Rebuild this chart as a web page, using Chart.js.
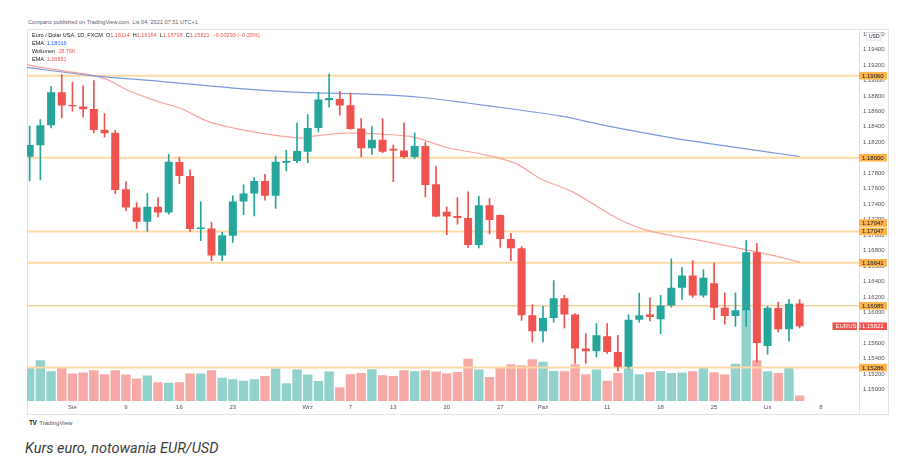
<!DOCTYPE html>
<html lang="pl">
<head>
<meta charset="utf-8">
<title>EUR/USD</title>
<script src="https://cdn.jsdelivr.net/npm/chart.js@4.4.1/dist/chart.umd.min.js"></script>
<style>
  body { margin: 0; width: 912px; height: 476px; background: #fff; position: relative; overflow: hidden;
         font-family: "Liberation Sans", Arial, sans-serif; }
  .abs { position: absolute; white-space: nowrap; }
  #published { left: 28px; top: 18px; font-size: 5.6px; line-height: 8px; color: #5d606b; }
  #frame { left: 27px; top: 29px; width: 862px; height: 386px; border: 1px solid #e0e3eb; box-sizing: border-box; }
  #axisline { left: 859px; top: 29px; width: 1px; height: 386px; background: #e0e3eb; }
  #wrap { left: 27px; top: 23px; width: 862px; height: 391px; }
  #legend { left: 32px; top: 31px; font-size: 5.5px; line-height: 8px; color: #131722; }
  #legend .r { color: #ef5350; }
  #legend .b { color: #2962ff; }
  #tv { left: 29px; top: 419px; font-size: 6px; line-height: 8px; color: #50535e; }
  #tv b { color: #131722; font-size: 6.5px; letter-spacing: -0.5px; margin-right: 3px; }
  #caption { left: 25px; top: 440px; font-family: Roboto, "Liberation Sans", sans-serif; font-style: italic;
             font-size: 14.5px; line-height: 18px; color: #3d3d3d; }
</style>
</head>
<body>
<div id="published" class="abs">Comparic published on TradingView.com, Lis 04, 2021 07:51 UTC+1</div>
<div id="frame" class="abs"></div>
<div id="axisline" class="abs"></div>
<div id="wrap" class="abs"><canvas id="chart" width="862" height="391"></canvas></div>
<div id="legend" class="abs">
  <div>Euro / Dolar USA, 1D, FXCM &nbsp;O<span class="r">1.16114</span> &nbsp;H<span class="r">1.16164</span> &nbsp;L<span class="r">1.15798</span> &nbsp;C<span class="r">1.15821</span> &nbsp;<span class="r">−0.00293 (−0.25%)</span></div>
  <div>EMA &nbsp;<span class="b">1.18016</span></div>
  <div>Wolumen &nbsp;<span class="r">28.76K</span></div>
  <div>EMA &nbsp;<span class="r">1.16651</span></div>
</div>
<div id="tv" class="abs"><b>TV</b>TradingView</div>
<div id="caption" class="abs">Kurs euro, notowania EUR/USD</div>

<script>
// Daily candles, first visible one is Tue 27 Jul 2021, last is Thu 4 Nov 2021
const firstDay = '2021-07-27';

const open = [1.18013, 1.18160, 1.18421, 1.18846, 1.18682, 1.18662, 1.18631, 1.18361, 1.18322, 1.17593,
              1.17356, 1.17172, 1.17365, 1.17292, 1.17945, 1.17764, 1.17078, 1.17086, 1.16734, 1.16992,
              1.17433, 1.17536, 1.17700, 1.17507, 1.17936, 1.17958, 1.18077, 1.18386, 1.18743, 1.18760,
              1.18679, 1.18379, 1.18121, 1.18232, 1.18116, 1.18095, 1.18009, 1.18151, 1.17657, 1.17301,
              1.17245, 1.17220, 1.16872, 1.17387, 1.17258, 1.16949, 1.16828, 1.15962, 1.15756, 1.15927,
              1.16184, 1.15971, 1.15533, 1.15498, 1.15691, 1.15489, 1.15296, 1.15906, 1.15971, 1.15910,
              1.16090, 1.16318, 1.16477, 1.16219, 1.16378, 1.16061, 1.15953, 1.16026, 1.16777, 1.15566,
              1.16056, 1.15781, 1.16114];
const high = [1.18408, 1.18494, 1.18923, 1.19074, 1.18975, 1.18932, 1.18997, 1.18572, 1.18353, 1.17691,
              1.17421, 1.17536, 1.17485, 1.18044, 1.18009, 1.17842, 1.17430, 1.17163, 1.17034, 1.17507,
              1.17648, 1.17742, 1.17786, 1.18022, 1.18095, 1.18451, 1.18559, 1.18846, 1.19082, 1.18859,
              1.18837, 1.18507, 1.18404, 1.18507, 1.18164, 1.18451, 1.18322, 1.18202, 1.17889, 1.17365,
              1.17485, 1.17558, 1.17503, 1.17472, 1.17262, 1.17021, 1.16850, 1.16099, 1.16077, 1.16412,
              1.16219, 1.15985, 1.15726, 1.15855, 1.15855, 1.15704, 1.15971, 1.16249, 1.16189, 1.16219,
              1.16692, 1.16584, 1.16670, 1.16550, 1.16640, 1.16254, 1.16254, 1.16927, 1.16893, 1.16077,
              1.16133, 1.16168, 1.16164];
const low = [1.17700, 1.17713, 1.18386, 1.18515, 1.18601, 1.18528, 1.18322, 1.18267, 1.17536, 1.17314,
             1.17086, 1.17047, 1.17236, 1.17271, 1.17665, 1.17047, 1.16927, 1.16670, 1.16670, 1.16905,
             1.17262, 1.17249, 1.17451, 1.17343, 1.17829, 1.17936, 1.17936, 1.18335, 1.18653, 1.18550,
             1.18366, 1.18009, 1.18044, 1.18064, 1.17691, 1.17992, 1.17987, 1.17494, 1.17235, 1.17005,
             1.17142, 1.16841, 1.16833, 1.17014, 1.16841, 1.16670, 1.15897, 1.15618, 1.15618, 1.15875,
             1.15798, 1.15340, 1.15340, 1.15425, 1.15468, 1.15244, 1.15275, 1.15875, 1.15888, 1.15726,
             1.16068, 1.16168, 1.16197, 1.16197, 1.15906, 1.15846, 1.15820, 1.15820, 1.15360, 1.15459,
             1.15747, 1.15627, 1.15798];
const close = [1.18164, 1.18421, 1.18846, 1.18675, 1.18666, 1.18627, 1.18357, 1.18318, 1.17584, 1.17356,
               1.17172, 1.17365, 1.17292, 1.17948, 1.17764, 1.17078, 1.17099, 1.16734, 1.16996, 1.17433,
               1.17536, 1.17700, 1.17507, 1.17948, 1.17958, 1.18086, 1.18386, 1.18752, 1.18773, 1.18675,
               1.18373, 1.18121, 1.18232, 1.18077, 1.18095, 1.18009, 1.18151, 1.17648, 1.17240, 1.17240,
               1.17220, 1.16872, 1.17387, 1.17194, 1.16949, 1.16828, 1.15962, 1.15756, 1.15927, 1.16184,
               1.15971, 1.15533, 1.15498, 1.15704, 1.15489, 1.15296, 1.15906, 1.15962, 1.15940, 1.16090,
               1.16318, 1.16477, 1.16219, 1.16447, 1.16061, 1.15953, 1.16026, 1.16777, 1.15605, 1.16061,
               1.15781, 1.16112, 1.15821];
// volume in thousands
const volume = [174, 214, 157, 174, 145, 150, 162, 141, 162, 140,
                119, 134, 99, 96, 99, 145, 145, 162, 122, 115,
                106, 115, 131, 171, 93, 166, 140, 105, 155, 72,
                141, 148, 167, 136, 132, 162, 157, 162, 155, 145,
                153, 223, 166, 127, 176, 194, 188, 220, 206, 158,
                157, 194, 141, 166, 106, 148, 171, 141, 152, 158,
                148, 150, 157, 174, 152, 140, 196, 485, 214, 157,
                148, 175, 28.76];

// EMA lines (x = candle number)
const emaSlowX = [-0.25, 5.6, 12.2, 18.8, 25.3, 32.1, 36.5, 40.9, 45.3, 49.7, 54.1, 60.2, 66.5, 72];
const emaSlowY = [1.19168, 1.19065, 1.18988, 1.18904, 1.18846, 1.18820, 1.18782, 1.18708, 1.18627, 1.18537,
                  1.18408, 1.18254, 1.18125, 1.18016];
const emaFastX = [-0.25, 2.2, 5.4, 7.2, 9.4, 12.2, 14.1, 16.6, 19.1, 21.6, 25.3, 26.5, 29.7, 32.8, 35.9,
                  39.1, 42.2, 45.3, 47.8, 50.9, 55.0, 58.1, 62.8, 66.5, 69.6, 72];
const emaFastY = [1.19200, 1.19142, 1.19078, 1.19013, 1.18859, 1.18717, 1.18640, 1.18473, 1.18382, 1.18318,
                  1.18254, 1.18279, 1.18322, 1.18305, 1.18267, 1.18129, 1.18048, 1.17936, 1.17726, 1.17549,
                  1.17211, 1.17047, 1.16927, 1.16824, 1.16734, 1.16651];

// horizontal levels and how many labels each one has on the price axis
const levels = [1.19060, 1.18000, 1.17047, 1.16641, 1.16085, 1.15286];
const levelLabels = [1, 1, 2, 1, 1, 1];
const lastPrice = 1.15821;

const priceTicks = [1.150, 1.152, 1.154, 1.156, 1.158, 1.160, 1.162, 1.164, 1.166, 1.168, 1.170, 1.172,
                    1.174, 1.176, 1.178, 1.180, 1.182, 1.184, 1.186, 1.188, 1.190, 1.192, 1.194, 1.196];
const tickDays = ['2021-08-02', '2021-08-09', '2021-08-16', '2021-08-23', '2021-09-01', '2021-09-07',
                  '2021-09-13', '2021-09-20', '2021-09-27', '2021-10-01', '2021-10-11', '2021-10-18',
                  '2021-10-25', '2021-11-01', '2021-11-08'];
const tickLabels = ['Sie', '9', '16', '23', 'Wrz', '7', '13', '20', '27', 'Paź', '11', '18', '25', 'Lis', '8'];

const xMin = -0.25, xMax = 77.55;
const yMin = 1.14854, yMax = 1.19644;
const volMax = 1950;

const UP = '#26a69a', DOWN = '#ef5350';
const UP_VOL = '#92d2cc', DOWN_VOL = '#f7a9a7';
const FONT = '"Liberation Sans", Arial, sans-serif';

// weekday calendar from the first candle on
const days = [];
let d = new Date(firstDay + 'T00:00:00Z');
while (days.length < 90) {
    const wd = d.getUTCDay();
    if (wd !== 0 && wd !== 6) days.push(d.toISOString().slice(0, 10));
    d.setUTCDate(d.getUTCDate() + 1);
}
const tickIdx = tickDays.map(t => days.indexOf(t));

const isUp = open.map((o, i) => close[i] >= o);
const candleColors = isUp.map(u => u ? UP : DOWN);
const volColors = isUp.map(u => u ? UP_VOL : DOWN_VOL);

const levelSets = levels.map(lvl => ({
    type: 'line',
    data: [{x: xMin, y: lvl}, {x: xMax, y: lvl}],
    borderColor: lvl === 1.16085 ? '#f8b766' : '#ffdaa6',
    borderWidth: lvl === 1.16085 ? 1 : 2,
    pointRadius: 0,
    order: 8
}));

function badge(ctx, x, y, w, text, bg, fg) {
    ctx.fillStyle = bg;
    ctx.fillRect(x, y - 3.8, w, 7.6);
    ctx.fillStyle = fg;
    ctx.fillText(text, x + 3, y + 0.3);
}

const badgePlugin = {
    id: 'badges',
    afterDatasetsDraw(chart) {
        const ctx = chart.ctx;
        const ys = chart.scales.y;
        const x0 = ys.left;
        ctx.save();
        ctx.font = '6px ' + FONT;
        ctx.textBaseline = 'middle';
        ctx.textAlign = 'left';
        levels.forEach((lvl, i) => {
            for (let k = 0; k < levelLabels[i]; k++) {
                const py = ys.getPixelForValue(lvl) - k * 8.4;
                badge(ctx, x0, py, 28, lvl.toFixed(5), '#fdb44b', '#131722');
            }
        });
        const lp = ys.getPixelForValue(lastPrice);
        badge(ctx, x0, lp, 28, lastPrice.toFixed(5), DOWN, '#fff');
        badge(ctx, x0 - 26.5, lp, 24.5, 'EURUSD', DOWN, '#fff');

        // currency box at the top of the price axis
        const top = chart.chartArea.top;
        ctx.fillStyle = '#fff';
        ctx.fillRect(x0 + 7.5, top + 2, 14.5, 7.5);
        ctx.strokeStyle = '#d1d4dc';
        ctx.lineWidth = 0.7;
        ctx.strokeRect(x0 + 7.5, top + 2, 14.5, 7.5);
        ctx.fillStyle = '#131722';
        ctx.font = '5px ' + FONT;
        ctx.fillText('USD', x0 + 10, top + 6);
        ctx.restore();
    }
};

new Chart(document.getElementById('chart'), {
    type: 'bar',
    data: {
        datasets: [
            {
                label: 'body',
                data: open.map((o, i) => ({x: i, y: [o, close[i]]})),
                backgroundColor: candleColors,
                grouped: false,
                categoryPercentage: 1,
                barPercentage: 0.75,
                minBarLength: 1,
                order: 1
            },
            {
                label: 'wick',
                data: open.map((o, i) => ({x: i, y: [low[i], high[i]]})),
                backgroundColor: candleColors,
                grouped: false,
                barThickness: 1,
                order: 2
            },
            {
                type: 'line',
                label: 'EMA slow',
                data: emaSlowX.map((x, i) => ({x: x, y: emaSlowY[i]})),
                borderColor: '#7c99da',
                borderWidth: 1.2,
                pointRadius: 0,
                tension: 0.3,
                order: 5
            },
            {
                type: 'line',
                label: 'EMA fast',
                data: emaFastX.map((x, i) => ({x: x, y: emaFastY[i]})),
                borderColor: '#f8a39d',
                borderWidth: 1.2,
                pointRadius: 0,
                tension: 0.3,
                order: 5
            },
            ...levelSets,
            {
                label: 'Wolumen',
                data: volume.map((v, i) => ({x: i, y: v})),
                yAxisID: 'yv',
                backgroundColor: volColors,
                grouped: false,
                categoryPercentage: 1,
                barPercentage: 0.88,
                order: 10
            }
        ]
    },
    options: {
        responsive: false,
        animation: false,
        events: [],
        layout: { padding: { top: 6, left: 0, right: 0, bottom: 0 } },
        plugins: { legend: { display: false }, tooltip: { enabled: false } },
        scales: {
            x: {
                type: 'linear',
                min: xMin,
                max: xMax,
                bounds: 'data',
                offset: false,
                grid: { display: false, drawTicks: false, offset: false },
                border: { display: false },
                afterBuildTicks: s => { s.ticks = tickIdx.map(v => ({value: v})); },
                afterFit: s => { s.height = 13; },
                ticks: {
                    autoSkip: false,
                    maxRotation: 0,
                    padding: 3,
                    color: '#50535e',
                    font: { size: 6, family: FONT },
                    callback: v => tickLabels[tickIdx.indexOf(v)]
                }
            },
            y: {
                position: 'right',
                min: yMin,
                max: yMax,
                bounds: 'data',
                grid: { display: false, drawTicks: false },
                border: { display: false },
                afterBuildTicks: s => { s.ticks = priceTicks.map(v => ({value: v})); },
                afterFit: s => { s.width = 30; },
                ticks: {
                    padding: 4,
                    color: '#50535e',
                    font: { size: 6, family: FONT },
                    callback: v => v.toFixed(5)
                }
            },
            yv: {
                display: false,
                min: 0,
                max: volMax,
                bounds: 'data'
            }
        }
    },
    plugins: [badgePlugin]
});
</script>
</body>
</html>
